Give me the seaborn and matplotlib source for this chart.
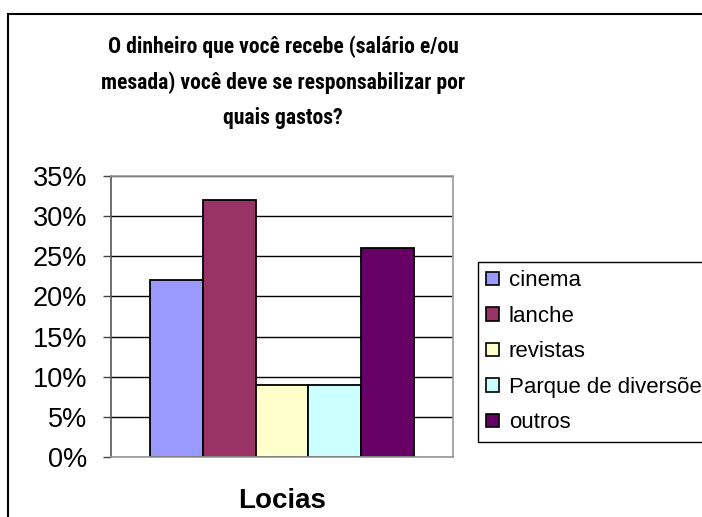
import matplotlib
matplotlib.use("Agg")
import matplotlib.pyplot as plt
from matplotlib.patches import Rectangle
from matplotlib.ticker import PercentFormatter
from matplotlib import font_manager
import seaborn as sns
import pandas as pd

# data
group_label = "Locias"
categories = ["cinema", "lanche", "revistas", "Parque de diversões", "outros"]
values = [0.22, 0.32, 0.09, 0.09, 0.26]
colors = ["#9999FF", "#993366", "#FFFFCC", "#CCFFFF", "#660066"]
title_lines = ["O dinheiro que você recebe (salário e/ou",
               "mesada) você deve se responsabilizar por",
               "quais gastos?"]
y_ticks = [0, 0.05, 0.10, 0.15, 0.20, 0.25, 0.30, 0.35]

df = pd.DataFrame({"grupo": [group_label] * len(categories),
                   "item": categories,
                   "valor": values})

sns.set_style("white")
plt.rcParams["font.family"] = ["Liberation Sans", "DejaVu Sans"]
plt.rcParams["text.color"] = "black"
plt.rcParams["xtick.color"] = "black"
plt.rcParams["ytick.color"] = "black"

# narrow font for the title, if there is one
installed = {f.name for f in font_manager.fontManager.ttflist}
title_family, title_size = ["Liberation Sans"], 14.3
for name, size in [("Liberation Sans Narrow", 16), ("Roboto Condensed", 15.6),
                   ("DejaVu Sans Condensed", 13.5)]:
    if name in installed:
        title_family, title_size = [name, "Liberation Sans"], size
        break

W, H = 702, 517
fig = plt.figure(figsize=(W / 100, H / 100), dpi=100)
ax = fig.add_axes([111 / W, 1 - 457 / H, (453 - 111) / W, (457 - 176) / H])

sns.barplot(data=df, x="grupo", y="valor", hue="item", hue_order=categories,
            palette=colors, width=0.77, edgecolor="black", linewidth=1.3,
            saturation=1, ax=ax, legend=True)

ax.set_ylim(0, 0.35)
ax.set_yticks(y_ticks)
ax.yaxis.set_major_formatter(PercentFormatter(1.0, decimals=0))
ax.set_xlim(-0.5, 0.5)
ax.set_xlabel("")
ax.set_ylabel("")
ax.set_axisbelow(True)
ax.yaxis.grid(True, color="black", linewidth=1)
ax.xaxis.grid(False)

ax.tick_params(axis="y", which="major", left=True, length=6, width=1,
               color="#444444", labelsize=19.5, labelcolor="black", pad=11)
ax.tick_params(axis="x", length=0, pad=22, labelcolor="black")
for lab in ax.get_xticklabels():
    lab.set_fontweight("bold")
    lab.set_fontsize(20)

for side in ["top", "right", "bottom"]:
    ax.spines[side].set_color("#999999")
    ax.spines[side].set_linewidth(1.2)
ax.spines["left"].set_color("#555555")
ax.spines["left"].set_linewidth(1.2)

# legend, partly cut off by the right edge like the original
handles, labels = ax.get_legend_handles_labels()
ax.get_legend().remove()
leg = fig.legend(handles, labels, loc="upper left",
                 bbox_to_anchor=(478 / W, 1 - 262 / H),
                 frameon=True, fancybox=False, shadow=False, framealpha=1,
                 edgecolor="black", fontsize=16, handlelength=0.55,
                 handleheight=0.55, handletextpad=0.45, labelspacing=0.65,
                 borderpad=0.38, borderaxespad=0, alignment="left")
leg.get_frame().set_linewidth(1.0)
for h in leg.legend_handles:
    h.set_edgecolor("black")
    h.set_linewidth(1.2)
for t in leg.get_texts():
    t.set_color("black")

# title in three lines
for i, line in enumerate(title_lines):
    fig.text(283 / W, 1 - (47 + 35.5 * i) / H, line, ha="center",
             va="center", fontsize=title_size, fontweight="bold",
             family=title_family, color="black")

# outer chart border
fig.patches.append(Rectangle((8 / W, -0.2), 1.2, 1.2 + (1 - 14 / H) - 1,
                             transform=fig.transFigure, fill=False,
                             edgecolor="black", linewidth=1.5))

fig.savefig("out.png", dpi=100)
